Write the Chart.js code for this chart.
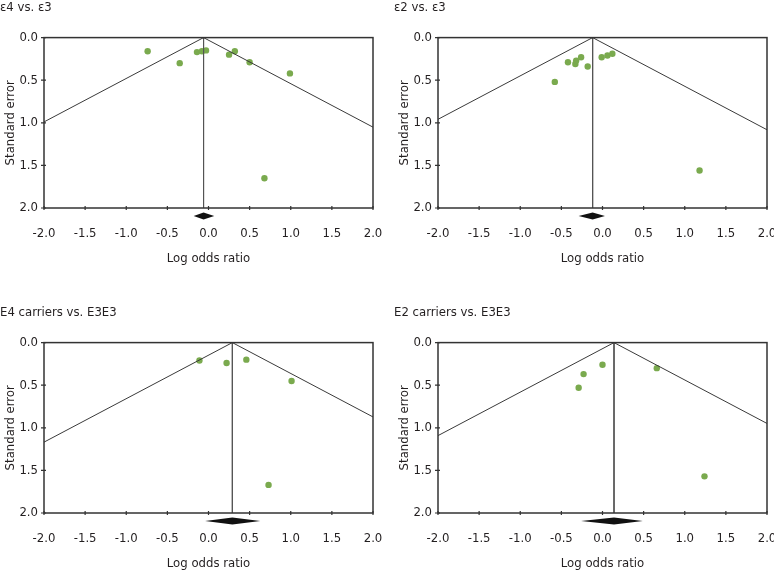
<!DOCTYPE html>
<html>
<head>
<meta charset="utf-8">
<script src="https://cdn.jsdelivr.net/npm/chart.js@4.4.0/dist/chart.umd.min.js"></script>
<style>
    html, body { margin: 0; padding: 0; background: #fff; width: 774px; height: 570px; overflow: hidden; }
    .panel { position: absolute; width: 384px; height: 275px; }
</style>
</head>
<body>
<div class="panel" style="left:0;top:0"><canvas id="funnel1" width="384" height="275"></canvas></div>
<div class="panel" style="left:394px;top:0"><canvas id="funnel2" width="384" height="275"></canvas></div>
<div class="panel" style="left:0;top:305px"><canvas id="funnel3" width="384" height="275"></canvas></div>
<div class="panel" style="left:394px;top:305px"><canvas id="funnel4" width="384" height="275"></canvas></div>
<script>
// Panel titles
const panelTitles = ['ε4 vs. ε3', 'ε2 vs. ε3', 'E4 carriers vs. E3E3', 'E2 carriers vs. E3E3'];

// Study estimates (log odds ratio, standard error) per comparison
const logOR_e4e3 = [-0.74, -0.35, -0.14, -0.08, -0.03, 0.25, 0.32, 0.50, 0.99, 0.68];
const se_e4e3    = [0.16, 0.30, 0.17, 0.16, 0.15, 0.20, 0.16, 0.29, 0.42, 1.65];

const logOR_e2e3 = [-0.58, -0.42, -0.33, -0.32, -0.26, -0.18, -0.01, 0.06, 0.12, 1.18];
const se_e2e3    = [0.52, 0.29, 0.31, 0.27, 0.23, 0.34, 0.23, 0.21, 0.19, 1.56];

const logOR_e4carriers = [-0.11, 0.22, 0.46, 1.01, 0.73];
const se_e4carriers    = [0.21, 0.24, 0.20, 0.45, 1.67];

const logOR_e2carriers = [-0.29, -0.23, 0.00, 0.66, 1.24];
const se_e2carriers    = [0.53, 0.37, 0.26, 0.30, 1.57];

// Pooled estimate and its confidence interval (diamond)
const pooledEstimate = [-0.06, -0.12, 0.29, 0.14];
const ciLow  = [-0.18, -0.29, -0.04, -0.26];
const ciHigh = [0.07, 0.03, 0.63, 0.49];

// Axis ticks
const xTicks = [-2.0, -1.5, -1.0, -0.5, 0.0, 0.5, 1.0, 1.5, 2.0];
const yTicks = [0.0, 0.5, 1.0, 1.5, 2.0];

const studyX = [logOR_e4e3, logOR_e2e3, logOR_e4carriers, logOR_e2carriers];
const studyY = [se_e4e3, se_e2e3, se_e4carriers, se_e2carriers];

Chart.defaults.font.family = "'DejaVu Sans Condensed', 'DejaVu Sans', sans-serif";
Chart.defaults.font.size = 13;
Chart.defaults.color = '#231f20';

// Frame, crossing tick marks and pooled diamond
const funnelDecor = {
    id: 'funnelDecor',
    afterDatasetsDraw(chart, args, opts) {
        const { ctx, chartArea: a, scales } = chart;
        ctx.save();
        ctx.strokeStyle = '#333';
        ctx.lineWidth = 1.5;
        ctx.strokeRect(a.left, a.top, a.right - a.left, a.bottom - a.top);

        ctx.lineWidth = 1.2;
        ctx.beginPath();
        xTicks.forEach(v => {
            const px = scales.x.getPixelForValue(v);
            ctx.moveTo(px, a.bottom - 2);
            ctx.lineTo(px, a.bottom + 2);
        });
        yTicks.forEach(v => {
            const py = scales.y.getPixelForValue(v);
            ctx.moveTo(a.left - 3, py);
            ctx.lineTo(a.left + 2, py);
        });
        ctx.stroke();

        const x0 = scales.x.getPixelForValue(ciLow[opts.idx]);
        const xm = scales.x.getPixelForValue(pooledEstimate[opts.idx]);
        const x1 = scales.x.getPixelForValue(ciHigh[opts.idx]);
        const yc = a.bottom + 8;
        ctx.fillStyle = '#111';
        ctx.beginPath();
        ctx.moveTo(x0, yc);
        ctx.lineTo(xm, yc - 3.5);
        ctx.lineTo(x1, yc);
        ctx.lineTo(xm, yc + 3.5);
        ctx.closePath();
        ctx.fill();
        ctx.restore();
    }
};

const makeFunnel = (idx) => {
    const el = document.getElementById('funnel' + (idx + 1));
    const m = pooledEstimate[idx];
    const points = studyX[idx].map((v, i) => ({ x: v, y: studyY[idx][i] }));

    new Chart(el, {
        type: 'scatter',
        data: {
            datasets: [
                {
                    type: 'line',
                    data: [{ x: m - 1.96 * 2, y: 2 }, { x: m, y: 0 }, { x: m + 1.96 * 2, y: 2 }],
                    borderColor: '#3a3a3a',
                    borderWidth: 1,
                    pointRadius: 0,
                    fill: false,
                    tension: 0
                },
                {
                    type: 'line',
                    data: [{ x: m, y: 0 }, { x: m, y: 2 }],
                    borderColor: '#555',
                    borderWidth: 1,
                    pointRadius: 0,
                    fill: false
                },
                {
                    data: points,
                    backgroundColor: '#7aaa4e',
                    borderWidth: 0,
                    pointRadius: 3.2
                }
            ]
        },
        options: {
            responsive: false,
            animation: false,
            layout: { padding: { right: 0 } },
            plugins: {
                legend: { display: false },
                tooltip: { enabled: false },
                title: {
                    display: true,
                    text: panelTitles[idx],
                    align: 'start',
                    font: { size: 13, weight: 'normal' },
                    padding: { top: 0, bottom: 22 }
                },
                funnelDecor: { idx: idx }
            },
            scales: {
                x: {
                    type: 'linear',
                    min: -2,
                    max: 2,
                    afterBuildTicks: s => { s.ticks = xTicks.map(v => ({ value: v })); },
                    afterFit: s => { s.height = 67; s.paddingRight = 11; s.paddingLeft = 11; },
                    grid: { display: false, drawTicks: false },
                    border: { display: false },
                    ticks: {
                        padding: 18,
                        maxRotation: 0,
                        callback: v => v.toFixed(1)
                    },
                    title: {
                        display: true,
                        text: 'Log odds ratio',
                        font: { size: 13 },
                        padding: { top: 0, bottom: 9 }
                    }
                },
                y: {
                    type: 'linear',
                    reverse: true,
                    min: 0,
                    max: 2,
                    afterBuildTicks: s => { s.ticks = yTicks.map(v => ({ value: v })); },
                    afterFit: s => { s.width = 44; },
                    grid: { display: false, drawTicks: false },
                    border: { display: false },
                    ticks: {
                        padding: 6,
                        callback: v => v.toFixed(1)
                    },
                    title: {
                        display: true,
                        text: 'Standard error',
                        font: { size: 13 },
                        padding: { top: 3, bottom: 0 }
                    }
                }
            }
        },
        plugins: [funnelDecor]
    });
};

[0, 1, 2, 3].forEach(makeFunnel);
</script>
</body>
</html>
